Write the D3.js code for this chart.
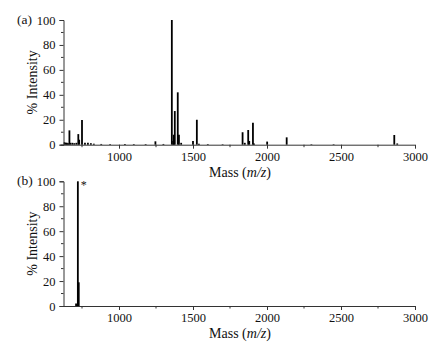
<!DOCTYPE html>
<html>
<head>
<meta charset="utf-8">
<script src="https://cdn.jsdelivr.net/npm/d3@7"></script>
<style>
  body { margin: 0; background: #fff; }
  svg text { font-family: "Liberation Serif", "Times New Roman", serif; fill: #111; }
</style>
</head>
<body>
<div id="chart"></div>
<script>
// peaks: [mass, % intensity]
var peaksA = [
    [632, 2], [640, 1.5], [648, 1.5], [656, 1.2], [665, 11.5], [672, 1.5], [685, 1.5], [698, 1.2],
    [712, 1.5], [725, 8.5], [731, 4], [750, 19.8], [770, 1.5], [790, 1.5], [810, 1.2], [830, 0.8],
    [880, 0.6], [940, 0.5], [1040, 0.6], [1100, 0.5], [1180, 0.5], [1246, 2.7], [1300, 0.6],
    [1357, 100], [1366, 3], [1370, 8], [1377, 27], [1397, 42], [1405, 8], [1420, 1.5],
    [1500, 3], [1526, 20], [1540, 0.8], [1600, 0.5], [1700, 0.4],
    [1835, 10], [1850, 1.5], [1873, 11.8], [1880, 3], [1905, 17.7], [1912, 1],
    [2001, 2.5], [2133, 5.9], [2300, 0.4], [2450, 0.4], [2860, 7.8], [2880, 1]
];
var peaksB = [[710, 2], [722, 100], [728, 19]];
var panelLabels = ["(a)", "(b)"];
var xTicks = [1000, 1500, 2000, 2500, 3000];
var xMinor = [750, 1250, 1750, 2250, 2750];
var yTicks = [0, 20, 40, 60, 80, 100];
var yMinor = [10, 30, 50, 70, 90];
var xDomain = [625, 3000];

var W = 442, H = 347;
var svg = d3.select("#chart").append("svg")
    .attr("width", W)
    .attr("height", H);

function drawPanel(data, label, top, bottom, star) {
    var x = d3.scaleLinear().domain(xDomain).range([63.5, 415]);
    var y = d3.scaleLinear().domain([0, 100]).range([bottom, top]);
    var g = svg.append("g");

    // peaks as sticks
    g.selectAll("line.peak")
        .data(data)
        .enter().append("line")
        .attr("class", "peak")
        .attr("x1", function(d) { return x(d[0]); })
        .attr("x2", function(d) { return x(d[0]); })
        .attr("y1", y(0))
        .attr("y2", function(d) { return y(d[1]); })
        .attr("stroke", "#000")
        .attr("stroke-width", 1.8);

    var xAxis = d3.axisBottom(x).tickValues(xTicks).tickFormat(d3.format("d")).tickSize(4).tickPadding(3);
    var gx = g.append("g")
        .attr("transform", "translate(0," + y(0) + ")")
        .call(xAxis);
    gx.select(".domain").attr("d", "M61," + 0.5 + "H415").attr("stroke", "#333");
    gx.selectAll(".tick line").attr("stroke", "#333");
    gx.selectAll(".tick text").style("font-size", "12.5px").attr("fill", "#111");
    gx.selectAll("line.minor")
        .data(xMinor)
        .enter().append("line")
        .attr("class", "minor")
        .attr("x1", function(d) { return x(d); })
        .attr("x2", function(d) { return x(d); })
        .attr("y1", 0).attr("y2", 2.5)
        .attr("stroke", "#333");

    var yAxis = d3.axisLeft(y).tickValues(yTicks).tickSize(4).tickPadding(4);
    var gy = g.append("g")
        .attr("transform", "translate(63.5,0)")
        .call(yAxis);
    gy.select(".domain").attr("stroke", "#333");
    gy.selectAll(".tick line").attr("stroke", "#333");
    gy.selectAll(".tick text").style("font-size", "12.5px").attr("fill", "#111");
    gy.selectAll("line.minor")
        .data(yMinor)
        .enter().append("line")
        .attr("class", "minor")
        .attr("x1", 0).attr("x2", -2.5)
        .attr("y1", function(d) { return y(d); })
        .attr("y2", function(d) { return y(d); })
        .attr("stroke", "#333");

    // labels
    g.append("text")
        .attr("x", 17).attr("y", top + 4)
        .style("font-size", "13.5px")
        .text(label);

    g.append("text")
        .attr("transform", "translate(37," + ((top + bottom) / 2) + ") rotate(-90)")
        .attr("text-anchor", "middle")
        .style("font-size", "14px")
        .text("% Intensity");

    var t = g.append("text")
        .attr("x", 240).attr("y", bottom + 32)
        .attr("text-anchor", "middle")
        .style("font-size", "14px");
    t.append("tspan").text("Mass (");
    t.append("tspan").style("font-style", "italic").text("m/z");
    t.append("tspan").text(")");

    if (star) {
        var top1 = data.reduce(function(a, b) { return b[1] > a[1] ? b : a; });
        g.append("text")
            .attr("x", x(top1[0]) + 3).attr("y", y(top1[1]) + 8)
            .style("font-size", "12px")
            .text("*");
    }
}

try {
    drawPanel(peaksA, panelLabels[0], 20, 144.7, false);
    drawPanel(peaksB, panelLabels[1], 181.3, 306, true);
} catch (err) {
    console.error("Could not draw the graph", err);
}
</script>
</body>
</html>
